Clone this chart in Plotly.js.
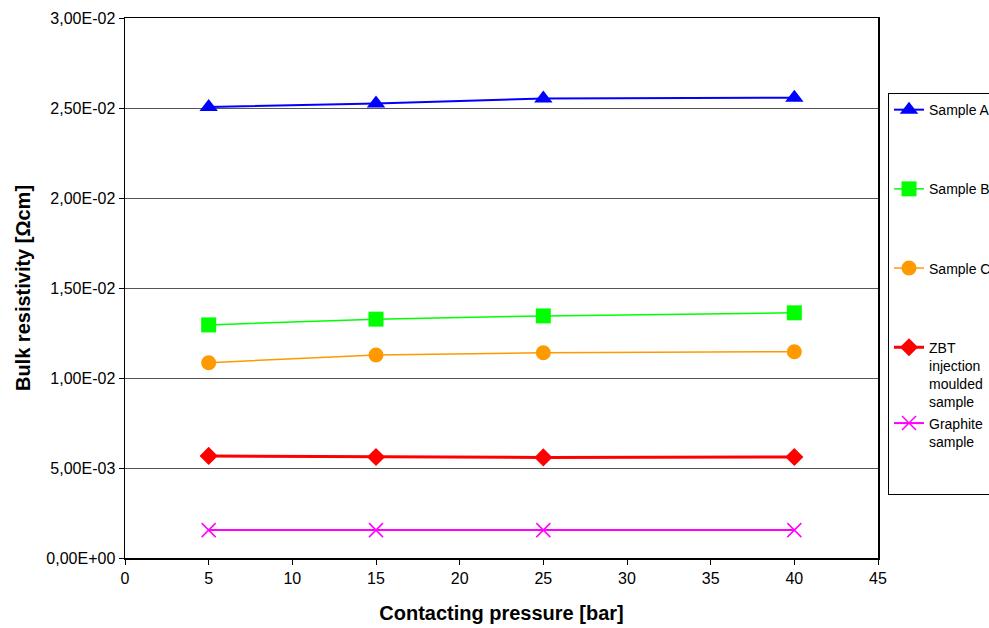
<!DOCTYPE html>
<html><head><meta charset="utf-8">
<script src="https://cdn.plot.ly/plotly-3.0.1.min.js"></script>
<style>html,body{margin:0;padding:0;background:#fff;overflow:hidden;}#chart{width:1010px;height:628px;}</style>
</head><body><div id="chart"></div>
<script>
const pressure = [5, 15, 25, 40];
const sampleA = [0.02505, 0.02525, 0.02553, 0.02557];
const sampleB = [0.01295, 0.01327, 0.01345, 0.01362];
const sampleC = [0.01085, 0.01128, 0.01140, 0.01146];
const zbt = [0.00567, 0.00561, 0.00559, 0.00561];
const graphite = [0.00155, 0.00155, 0.00155, 0.00155];
const seriesNames = ["Sample A", "Sample B", "Sample C", "ZBT<br>injection<br>moulded<br>sample", "Graphite<br>sample<br> <br> "];
const yTickVals = [0, 0.005, 0.01, 0.015, 0.02, 0.025, 0.03];
const yTickText = ["0,00E+00", "5,00E-03", "1,00E-02", "1,50E-02", "2,00E-02", "2,50E-02", "3,00E-02"];
const xTickVals = [0, 5, 10, 15, 20, 25, 30, 35, 40, 45];

const styles = [
  {color: "#0000FF", w: 2, sym: "triangle-up", size: 16, g: "g0"},
  {color: "#00FF00", w: 1.5, sym: "square", size: 15, g: "g1"},
  {color: "#FF9900", w: 1.5, sym: "circle", size: 15, g: "g2"},
  {color: "#FF0000", w: 3, sym: "diamond", size: 14, g: "g3"},
  {color: "#FF00FF", w: 2, sym: "x-thin", size: 14, g: "g3"}
];
const ys = [sampleA, sampleB, sampleC, zbt, graphite];
const traces = ys.map((y, i) => ({
  x: pressure, y: y, type: "scatter", mode: "lines+markers",
  name: seriesNames[i], legendgroup: styles[i].g,
  line: {color: styles[i].color, width: styles[i].w},
  marker: {symbol: styles[i].sym, size: styles[i].size, color: styles[i].color,
           line: {color: styles[i].color, width: i === 4 ? 1.5 : 0}}
}));

const layout = {
  width: 1010, height: 628,
  margin: {l: 125, r: 132, t: 18, b: 70},
  paper_bgcolor: "#fff", plot_bgcolor: "#fff",
  font: {family: "Liberation Sans, Arial, sans-serif", size: 16, color: "#000"},
  showlegend: true,
  legend: {x: 1.0133, xanchor: "left", y: 0.861, yanchor: "top",
           bordercolor: "#000", borderwidth: 1, tracegroupgap: 58, valign: "top",
           font: {size: 14, family: "Liberation Sans, Arial, sans-serif"}},
  xaxis: {range: [0, 45], tickvals: xTickVals, ticks: "outside", ticklen: 5, tickcolor: "#000",
          showline: true, linecolor: "#000", linewidth: 1.5, mirror: true, showgrid: false, zeroline: false,
          title: {text: "<b>Contacting pressure [bar]</b>", font: {size: 20}, standoff: 20}},
  yaxis: {range: [0, 0.03], tickvals: yTickVals, ticktext: yTickText, ticks: "outside", ticklen: 5, tickcolor: "#000",
          showline: true, linecolor: "#000", linewidth: 1.5, mirror: true, showgrid: true, gridcolor: "#555", gridwidth: 1,
          zeroline: false,
          title: {text: "<b>Bulk resistivity [Ωcm]</b>", font: {size: 20}, standoff: 10}}
};
Plotly.newPlot("chart", traces, layout, {staticPlot: true});
</script></body></html>
